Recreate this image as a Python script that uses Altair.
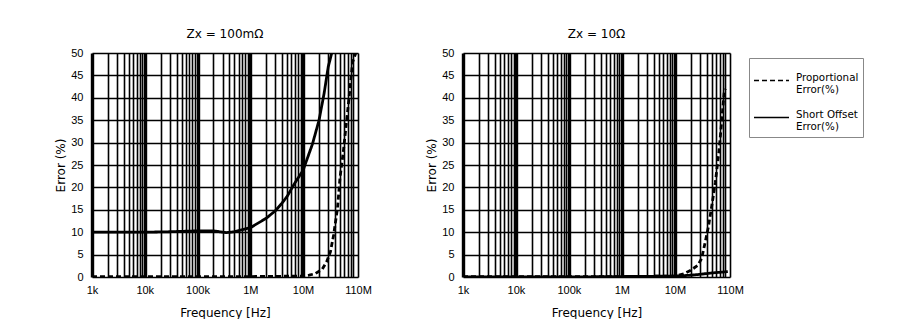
import altair as alt
import pandas as pd

# ---- data ----
left_solid_f = [1e3, 3e3, 1e4, 3e4, 1e5, 2e5, 3.5e5, 5e5, 1e6, 2e6, 3e6, 4e6, 5e6, 7e6, 1e7, 1.5e7, 2e7, 2.5e7, 3e7, 3.5e7]
left_solid_v = [10.0, 10.0, 10.0, 10.1, 10.3, 10.3, 9.9, 10.1, 11.0, 13.1, 14.8, 16.5, 18.0, 21.0, 23.8, 29.6, 34.9, 40.9, 46.9, 50.0]

left_dash_f = [1e3, 1e4, 1e5, 1e6, 1e7, 1.3e7, 1.7e7, 2.3e7, 2.8e7, 3.3e7, 3.8e7, 4.5e7, 5e7, 5.8e7, 6.8e7, 7.8e7, 8.7e7, 1e8]
left_dash_v = [0.1, 0.1, 0.1, 0.1, 0.2, 0.4, 0.75, 1.7, 3.4, 5.6, 9.4, 15.4, 22.0, 28.0, 35.6, 42.4, 48.0, 50.0]

right_solid_f = [1e3, 1e5, 1e7, 2e7, 3e7, 5e7, 1e8]
right_solid_v = [0.0, 0.0, 0.2, 0.4, 0.6, 0.9, 1.2]

right_dash_f = [1e3, 1e4, 1e5, 1e6, 1e7, 1.5e7, 2e7, 2.7e7, 3.2e7, 3.7e7, 4.3e7, 5e7, 5.8e7, 6.8e7, 7.7e7, 8.5e7, 9e7]
right_dash_v = [0.1, 0.1, 0.1, 0.1, 0.2, 0.75, 1.5, 2.6, 4.1, 7.5, 11.2, 16.0, 21.0, 28.0, 35.0, 41.0, 42.0]

series_names = ["Proportional Error(%)", "Short Offset Error(%)"]
panel_titles = ["Zx = 100m\u03a9", "Zx = 10\u03a9"]

x_tick_values = [m * 10 ** e for e in range(3, 8) for m in range(1, 10)] + [1.1e8]
x_tick_labels = {1e3: "1k", 1e4: "10k", 1e5: "100k", 1e6: "1M", 1e7: "10M", 1.1e8: "110M"}
y_tick_values = list(range(0, 55, 5))

TITLE_FONT = "DejaVu Sans"
TICK_FONT = "Liberation Sans"


def frame(f, v, name):
    return pd.DataFrame({"freq": f, "err": v, "series": name})


left_df = pd.concat([frame(left_dash_f, left_dash_v, series_names[0]),
                     frame(left_solid_f, left_solid_v, series_names[1])])
right_df = pd.concat([frame(right_dash_f, right_dash_v, series_names[0]),
                      frame(right_solid_f, right_solid_v, series_names[1])])

label_expr = " : ".join(
    f"abs(datum.value - {k}) < 1 ? '{v}'" for k, v in x_tick_labels.items()
) + " : ''"
decade_test = "abs(log(datum.value)/LN10 - round(log(datum.value)/LN10)) < 0.001"
legend_label_expr = ("split(replace(datum.label, ' Error', '" + "\u00a0" * 6 + "\\nError'), '\\n')")


def panel(df, title, width):
    return alt.Chart(df, title=alt.Title(title, fontSize=12, fontWeight="normal", font=TITLE_FONT,
                                         offset=6, color="black")).mark_line(
        strokeWidth=2.8, color="black", clip=True
    ).encode(
        x=alt.X("freq:Q",
                scale=alt.Scale(type="log", domain=[1e3, 1.1e8], nice=False),
                axis=alt.Axis(values=x_tick_values, labelExpr=label_expr, title="Frequency [Hz]",
                              grid=True, gridColor="black",
                              gridWidth={"condition": {"test": decade_test, "value": 3.4}, "value": 1.6},
                              ticks=False, domain=False, labelPadding=7, labelFontSize=11,
                              titleFontSize=12, titleFontWeight="normal", titlePadding=12,
                              labelFont=TICK_FONT, titleFont=TITLE_FONT, labelColor="black",
                              titleColor="black", labelFlush=False, labelOverlap=False)),
        y=alt.Y("err:Q",
                scale=alt.Scale(domain=[0, 50], nice=False),
                axis=alt.Axis(values=y_tick_values, title="Error (%)", grid=True, gridColor="black",
                              gridWidth=1.7, ticks=False, domain=False, labelPadding=9,
                              labelFontSize=11, titleFontSize=12, titleFontWeight="normal",
                              titlePadding=3, labelFont=TICK_FONT, titleFont=TITLE_FONT,
                              labelColor="black", titleColor="black")),
        strokeDash=alt.StrokeDash("series:N",
                                  scale=alt.Scale(domain=series_names, range=[[5, 3], [1, 0]]),
                                  legend=alt.Legend(title=None, orient="none", legendX=657, legendY=5,
                                                    labelExpr=legend_label_expr,
                                                    symbolType="stroke", symbolSize=1225,
                                                    symbolStrokeWidth=1.6, symbolStrokeColor="black",
                                                    labelFontSize=10.3, labelFont=TITLE_FONT,
                                                    labelColor="black", strokeColor="#888888",
                                                    padding=4, rowPadding=3, labelOffset=6,
                                                    labelBaseline="alphabetic")),
        order=alt.Order("freq:Q"),
    ).properties(width=width, height=224)


chart = alt.hconcat(panel(left_df, panel_titles[0], 266), panel(right_df, panel_titles[1], 267),
                    spacing=53).properties(
    padding={"left": 46, "top": 19, "right": 0, "bottom": 0}
).configure_view(stroke="black", strokeWidth=3).configure(background="white")

chart.save("out.html", embed_options={"renderer": "svg", "actions": False})
